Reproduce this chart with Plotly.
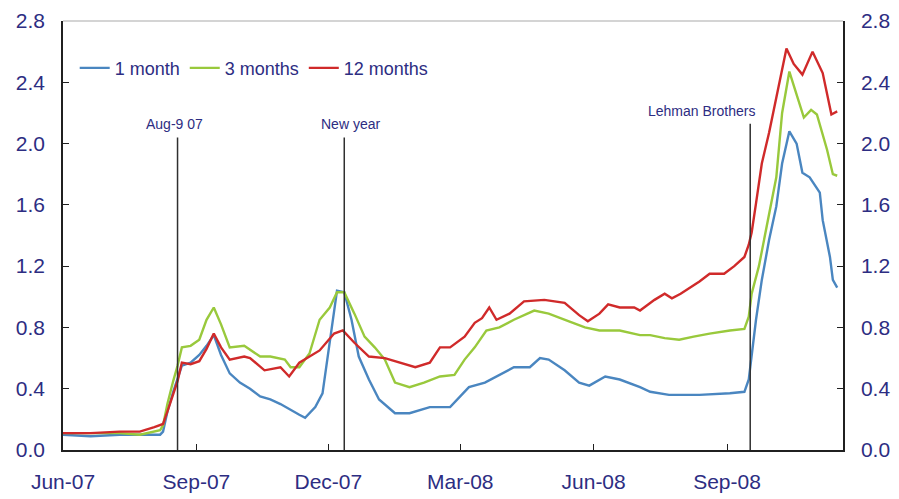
import plotly.graph_objects as go

# ---- data ----
dates_1m = ["2007-06-01","2007-06-20","2007-07-10","2007-07-24","2007-08-07","2007-08-09","2007-08-12","2007-08-16",
            "2007-08-19","2007-08-22","2007-08-28","2007-09-03","2007-09-08","2007-09-13","2007-09-18","2007-09-24",
            "2007-10-01","2007-10-08","2007-10-15","2007-10-22","2007-10-29","2007-11-05","2007-11-11","2007-11-15",
            "2007-11-22","2007-11-27","2007-12-02","2007-12-07","2007-12-12","2007-12-17","2007-12-22","2007-12-29",
            "2008-01-05","2008-01-16","2008-01-26","2008-02-09","2008-02-23","2008-02-26","2008-03-07","2008-03-18",
            "2008-03-28","2008-04-07","2008-04-18","2008-04-25","2008-05-01","2008-05-12","2008-05-22","2008-05-29",
            "2008-06-09","2008-06-19","2008-07-03","2008-07-10","2008-07-23","2008-08-13","2008-09-03","2008-09-13",
            "2008-09-16","2008-09-18","2008-09-21","2008-09-25","2008-09-30","2008-10-05","2008-10-09","2008-10-14",
            "2008-10-19","2008-10-23","2008-10-28","2008-11-04","2008-11-06","2008-11-11","2008-11-13","2008-11-16"]
vals_1m = [0.10,0.09,0.10,0.10,0.10,0.12,0.25,0.38,
           0.46,0.55,0.57,0.62,0.68,0.75,0.62,0.50,
           0.44,0.40,0.35,0.33,0.30,0.26,0.23,0.21,
           0.28,0.37,0.70,1.04,1.03,0.85,0.61,0.46,
           0.33,0.24,0.24,0.28,0.28,0.31,0.41,0.44,
           0.49,0.54,0.54,0.60,0.59,0.52,0.44,0.42,
           0.48,0.46,0.41,0.38,0.36,0.36,0.37,0.38,
           0.46,0.62,0.85,1.11,1.37,1.59,1.87,2.08,
           2.00,1.81,1.78,1.68,1.50,1.26,1.11,1.06]

dates_3m = ["2007-06-01","2007-07-10","2007-07-24","2007-08-07","2007-08-09","2007-08-12","2007-08-16","2007-08-19",
            "2007-08-22","2007-08-28","2007-09-03","2007-09-08","2007-09-13","2007-09-18","2007-09-24","2007-10-04",
            "2007-10-15","2007-10-22","2007-11-01","2007-11-05","2007-11-11","2007-11-18","2007-11-25","2007-12-02",
            "2007-12-07","2007-12-12","2007-12-19","2007-12-26","2008-01-02","2008-01-09","2008-01-16","2008-01-26",
            "2008-02-05","2008-02-16","2008-02-26","2008-03-04","2008-03-11","2008-03-19","2008-03-28","2008-04-07",
            "2008-04-21","2008-05-01","2008-05-15","2008-05-26","2008-06-05","2008-06-19","2008-07-03","2008-07-10",
            "2008-07-20","2008-07-30","2008-08-09","2008-08-20","2008-09-03","2008-09-13","2008-09-16","2008-09-18",
            "2008-09-23","2008-09-30","2008-10-05","2008-10-09","2008-10-14","2008-10-19","2008-10-24","2008-10-29",
            "2008-11-02","2008-11-09","2008-11-13","2008-11-16"]
vals_3m = [0.11,0.11,0.10,0.13,0.16,0.30,0.45,0.55,
           0.67,0.68,0.72,0.85,0.93,0.82,0.67,0.68,
           0.61,0.61,0.59,0.54,0.54,0.63,0.85,0.93,
           1.03,1.03,0.89,0.74,0.67,0.59,0.44,0.41,
           0.44,0.48,0.49,0.59,0.67,0.78,0.80,0.85,
           0.91,0.89,0.84,0.80,0.78,0.78,0.75,0.75,
           0.73,0.72,0.74,0.76,0.78,0.79,0.87,1.02,
           1.20,1.55,1.78,2.20,2.47,2.32,2.17,2.22,
           2.19,1.96,1.80,1.79]

dates_12m = ["2007-06-01","2007-06-20","2007-07-10","2007-07-24","2007-08-03","2007-08-09","2007-08-12","2007-08-16",
             "2007-08-19","2007-08-22","2007-08-28","2007-09-03","2007-09-08","2007-09-13","2007-09-18","2007-09-24",
             "2007-10-04","2007-10-08","2007-10-15","2007-10-18","2007-10-29","2007-11-04","2007-11-11","2007-11-25",
             "2007-12-05","2007-12-11","2007-12-19","2007-12-29","2008-01-09","2008-01-19","2008-01-30","2008-02-09",
             "2008-02-16","2008-02-23","2008-03-04","2008-03-11","2008-03-16","2008-03-21","2008-03-26","2008-04-04",
             "2008-04-14","2008-04-28","2008-05-12","2008-05-22","2008-05-28","2008-06-05","2008-06-11","2008-06-19",
             "2008-06-29","2008-07-03","2008-07-13","2008-07-20","2008-07-25","2008-07-31","2008-08-13","2008-08-20",
             "2008-08-30","2008-09-06","2008-09-13","2008-09-16","2008-09-18","2008-09-21","2008-09-25","2008-09-30",
             "2008-10-05","2008-10-09","2008-10-12","2008-10-17","2008-10-23","2008-10-30","2008-11-06","2008-11-12",
             "2008-11-16"]
vals_12m = [0.11,0.11,0.12,0.12,0.15,0.17,0.25,0.36,
            0.45,0.57,0.56,0.58,0.66,0.76,0.67,0.59,
            0.61,0.60,0.54,0.52,0.54,0.48,0.57,0.65,
            0.76,0.78,0.70,0.61,0.60,0.57,0.54,0.57,
            0.67,0.67,0.74,0.83,0.86,0.93,0.85,0.89,
            0.97,0.98,0.96,0.88,0.84,0.89,0.95,0.93,
            0.93,0.91,0.98,1.02,0.99,1.02,1.10,1.15,
            1.15,1.20,1.26,1.34,1.42,1.61,1.87,2.07,
            2.30,2.50,2.62,2.52,2.45,2.60,2.46,2.19,
            2.21]

series_names = ["1 month", "3 months", "12 months"]
series_colors = ["#4a86c0", "#99c93c", "#d02a2a"]

event_labels = ["Aug-9 07", "New year", "Lehman Brothers"]
event_dates = ["2007-08-19", "2007-12-12", "2008-09-17"]
event_tops = [2.04, 2.04, 2.13]
event_label_shift = [-3, 6, -49]

tick_dates = ["2007-06-01", "2007-09-01", "2007-12-01", "2008-03-01", "2008-06-01", "2008-09-01"]
tick_labels = ["Jun-07", "Sep-07", "Dec-07", "Mar-08", "Jun-08", "Sep-08"]
x_range = ["2007-06-01", "2008-11-20"]
y_range = [0, 2.8]

TXT = "#2d2d82"
FONT = "Liberation Sans, Arial, sans-serif"

fig = go.Figure()
for d, v, n, c in zip([dates_1m, dates_3m, dates_12m], [vals_1m, vals_3m, vals_12m], series_names, series_colors):
    fig.add_trace(go.Scatter(x=d, y=v, name=n, mode="lines", line=dict(color=c, width=2.4)))
# invisible trace to carry the right-hand axis
fig.add_trace(go.Scatter(x=x_range, y=y_range, yaxis="y2", mode="lines",
                         line=dict(width=0), showlegend=False, hoverinfo="skip"))

for lab, d, top, sh in zip(event_labels, event_dates, event_tops, event_label_shift):
    fig.add_shape(type="line", x0=d, x1=d, y0=0, y1=top, xref="x", yref="y",
                  line=dict(color="#303030", width=1.5))
    fig.add_annotation(x=d, y=top, text=lab, showarrow=False, yanchor="bottom", yshift=3, xshift=sh,
                       font=dict(size=14, color=TXT, family=FONT))

# light top border
fig.add_shape(type="line", xref="paper", yref="paper", x0=0, x1=1, y0=1, y1=1,
              line=dict(color="#d4d4d4", width=2))

axis_common = dict(showgrid=False, zeroline=False, showline=True, linecolor="#202020", linewidth=1.5,
                   ticks="inside", ticklen=6, tickcolor="#202020", automargin=False,
                   tickfont=dict(size=21, color=TXT, family=FONT))

fig.update_layout(
    width=891, height=491,
    margin=dict(l=55, r=56, t=13, b=49),
    paper_bgcolor="white", plot_bgcolor="white",
    showlegend=True,
    legend=dict(orientation="h", x=0.015, y=0.89, xanchor="left", yanchor="middle",
                font=dict(size=18, color=TXT, family=FONT), bgcolor="rgba(0,0,0,0)",
                itemwidth=30, tracegroupgap=0),
    xaxis=dict(type="date", range=x_range, tickvals=tick_dates, ticktext=tick_labels,
               ticklabelstandoff=12, **axis_common),
    yaxis=dict(range=y_range, dtick=0.4, tick0=0, tickformat=".1f", ticklabelstandoff=12, **axis_common),
    yaxis2=dict(range=y_range, dtick=0.4, tick0=0, tickformat=".1f", overlaying="y", side="right",
                ticklabelstandoff=12, **axis_common),
)

fig.write_html("out.html")
